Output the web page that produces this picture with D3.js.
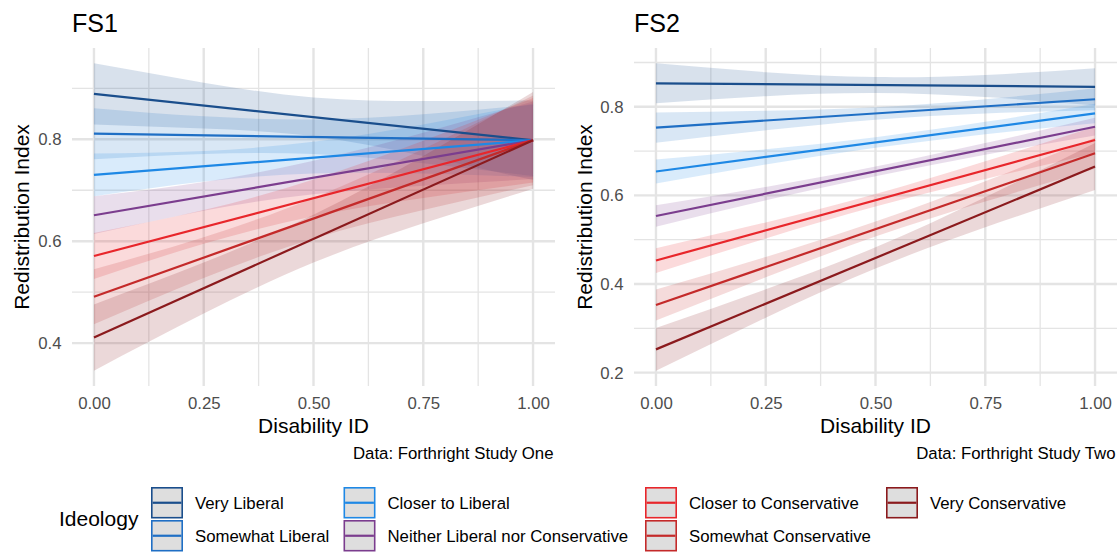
<!DOCTYPE html>
<html>
<head>
<meta charset="utf-8">
<script src="https://cdn.jsdelivr.net/npm/d3@7"></script>
<style>
  body { margin: 0; background: #ffffff; }
  svg { display: block; font-family: "Liberation Sans", Arial, Helvetica, sans-serif; }
</style>
</head>
<body>
<svg id="chart" width="1120" height="554"></svg>
<script>
// Ideology groups and their colours
const ideologies = [
  "Very Liberal", "Somewhat Liberal", "Closer to Liberal",
  "Neither Liberal nor Conservative", "Closer to Conservative",
  "Somewhat Conservative", "Very Conservative"
];
const ideologyColors = ["#1a4e8c", "#1f6fc5", "#1e88e5", "#7b3d8e", "#e8262b", "#c42a2a", "#8b1a1d"];

// Disability ID positions where the confidence band is given
const bandX = [0, 0.25, 0.5, 0.75, 1];
const xTicks = [0, 0.25, 0.5, 0.75, 1];
const xMinor = [0.125, 0.375, 0.625, 0.875];

// FS1: predicted Redistribution Index at Disability ID 0 and 1
const fs1Fit = [
  [0.889, 0.798], [0.811, 0.798], [0.730, 0.798], [0.651, 0.798],
  [0.571, 0.798], [0.491, 0.798], [0.411, 0.798]
];
const fs1Lower = [
  [0.829, 0.821, 0.806, 0.767, 0.720],
  [0.761, 0.771, 0.771, 0.753, 0.728],
  [0.688, 0.717, 0.733, 0.733, 0.726],
  [0.614, 0.660, 0.692, 0.709, 0.722],
  [0.526, 0.595, 0.649, 0.685, 0.715],
  [0.437, 0.528, 0.605, 0.661, 0.710],
  [0.346, 0.458, 0.558, 0.635, 0.703]
];
const fs1Upper = [
  [0.949, 0.911, 0.882, 0.875, 0.876],
  [0.861, 0.845, 0.839, 0.849, 0.868],
  [0.772, 0.777, 0.795, 0.829, 0.870],
  [0.688, 0.716, 0.758, 0.813, 0.874],
  [0.616, 0.661, 0.721, 0.797, 0.881],
  [0.545, 0.608, 0.685, 0.781, 0.886],
  [0.476, 0.558, 0.652, 0.767, 0.893]
];
const fs1YTicks = [0.4, 0.6, 0.8];
const fs1YMinor = [0.5, 0.7, 0.9];

// FS2
const fs2Fit = [
  [0.853, 0.845], [0.753, 0.817], [0.654, 0.785], [0.5535, 0.755],
  [0.453, 0.725], [0.3525, 0.695], [0.2525, 0.665]
];
const fs2Lower = [
  [0.808, 0.824, 0.831, 0.822, 0.803],
  [0.719, 0.747, 0.771, 0.785, 0.792],
  [0.627, 0.670, 0.7075, 0.738, 0.763],
  [0.5295, 0.589, 0.643, 0.692, 0.735],
  [0.425, 0.503, 0.575, 0.637, 0.695],
  [0.3175, 0.415, 0.507, 0.586, 0.660],
  [0.2045, 0.324, 0.435, 0.528, 0.612]
];
const fs2Upper = [
  [0.898, 0.878, 0.867, 0.872, 0.887],
  [0.787, 0.791, 0.799, 0.817, 0.842],
  [0.681, 0.704, 0.7315, 0.766, 0.807],
  [0.5775, 0.619, 0.665, 0.718, 0.775],
  [0.481, 0.539, 0.603, 0.677, 0.755],
  [0.3875, 0.461, 0.541, 0.632, 0.730],
  [0.3005, 0.388, 0.483, 0.596, 0.718]
];
const fs2YTicks = [0.2, 0.4, 0.6, 0.8];
const fs2YMinor = [0.3, 0.5, 0.7, 0.9];

const panels = [
  { title: "FS1", caption: "Data: Forthright Study One", fit: fs1Fit, lower: fs1Lower, upper: fs1Upper,
    yTicks: fs1YTicks, yMinor: fs1YMinor, left: 72, right: 555, yTitleX: 28.5 },
  { title: "FS2", caption: "Data: Forthright Study Two", fit: fs2Fit, lower: fs2Lower, upper: fs2Upper,
    yTicks: fs2YTicks, yMinor: fs2YMinor, left: 634, right: 1117, yTitleX: 591.5 }
];

const plotTop = 48, plotBottom = 386;
const svg = d3.select("#chart");
const gridColor = "#e4e4e4";

panels.forEach(p => {
  const x = d3.scaleLinear().domain([-0.05, 1.05]).range([p.left, p.right]);
  const lo = d3.min(p.lower.flat()), hi = d3.max(p.upper.flat());
  const pad = (hi - lo) * 0.05;
  const y = d3.scaleLinear().domain([lo - pad, hi + pad]).range([plotBottom, plotTop]);

  const g = svg.append("g");

  // grid: minor then major
  const grid = g.append("g");
  grid.selectAll(".ymin").data(p.yMinor).join("line")
    .attr("x1", p.left).attr("x2", p.right)
    .attr("y1", d => y(d)).attr("y2", d => y(d))
    .attr("stroke", gridColor).attr("stroke-width", 1.3);
  grid.selectAll(".xmin").data(xMinor).join("line")
    .attr("y1", plotTop).attr("y2", plotBottom)
    .attr("x1", d => x(d)).attr("x2", d => x(d))
    .attr("stroke", gridColor).attr("stroke-width", 1.3);
  grid.selectAll(".ymaj").data(p.yTicks).join("line")
    .attr("x1", p.left).attr("x2", p.right)
    .attr("y1", d => y(d)).attr("y2", d => y(d))
    .attr("stroke", gridColor).attr("stroke-width", 2.4);
  grid.selectAll(".xmaj").data(xTicks).join("line")
    .attr("y1", plotTop).attr("y2", plotBottom)
    .attr("x1", d => x(d)).attr("x2", d => x(d))
    .attr("stroke", gridColor).attr("stroke-width", 2.4);

  // confidence bands
  const area = d3.area()
    .x((d, i) => x(bandX[i]))
    .y0(d => y(d[0]))
    .y1(d => y(d[1]))
    .curve(d3.curveNatural);
  g.append("g").selectAll("path").data(ideologies).join("path")
    .attr("d", (d, k) => area(p.lower[k].map((v, i) => [v, p.upper[k][i]])))
    .attr("fill", (d, k) => ideologyColors[k])
    .attr("fill-opacity", 0.17);

  // fitted lines
  const line = d3.line().x((d, i) => x(i)).y(d => y(d));
  g.append("g").selectAll("path").data(ideologies).join("path")
    .attr("d", (d, k) => line(p.fit[k]))
    .attr("fill", "none")
    .attr("stroke", (d, k) => ideologyColors[k])
    .attr("stroke-width", 2.2);

  // axes
  const xAxis = g.append("g").attr("transform", `translate(0,${plotBottom})`)
    .call(d3.axisBottom(x).tickValues(xTicks).tickFormat(d3.format(".2f")).tickSize(0).tickPadding(11));
  const yAxis = g.append("g").attr("transform", `translate(${p.left},0)`)
    .call(d3.axisLeft(y).tickValues(p.yTicks).tickFormat(d3.format(".1f")).tickSize(0).tickPadding(10.5));
  [xAxis, yAxis].forEach(a => {
    a.select(".domain").remove();
    a.selectAll("text").attr("fill", "#4d4d4d").attr("font-size", 16.8)
      .attr("font-family", "Liberation Sans, Arial, sans-serif");
  });

  // titles
  g.append("text").attr("x", p.left).attr("y", 31.7).attr("font-size", 25).attr("fill", "#000").text(p.title);
  g.append("text").attr("x", (p.left + p.right) / 2).attr("y", 433.3).attr("text-anchor", "middle")
    .attr("font-size", 21).attr("fill", "#000").text("Disability ID");
  g.append("text").attr("transform", `translate(${p.yTitleX},${(plotTop + plotBottom) / 2}) rotate(-90)`)
    .attr("text-anchor", "middle").attr("font-size", 21).attr("fill", "#000").text("Redistribution Index");
  g.append("text").attr("x", p.right - 1.5).attr("y", 459).attr("text-anchor", "end")
    .attr("font-size", 16.8).attr("fill", "#000").text(p.caption);
});

// legend
const legend = svg.append("g");
legend.append("text").attr("x", 59).attr("y", 525.5).attr("font-size", 21).attr("fill", "#000").text("Ideology");
const colX = [151, 343.5, 645, 886];
const rowY = [487, 520];
const keyW = 32, keyH = 31.5;
const keys = legend.selectAll("g.key").data(ideologies).join("g")
  .attr("class", "key")
  .attr("transform", (d, i) => `translate(${colX[Math.floor(i / 2)]},${rowY[i % 2]})`);
keys.append("rect").attr("x", 0.8).attr("y", 0.8).attr("width", keyW - 1.6).attr("height", keyH - 1.6)
  .attr("fill", "#dedede").attr("stroke", (d, i) => ideologyColors[i]).attr("stroke-width", 1.6);
keys.append("line").attr("x1", 1.6).attr("x2", keyW - 1.6).attr("y1", keyH / 2).attr("y2", keyH / 2)
  .attr("stroke", (d, i) => ideologyColors[i]).attr("stroke-width", 2.2);
keys.append("text").attr("x", 44).attr("y", keyH / 2).attr("dy", "0.35em")
  .attr("font-size", 16.8).attr("fill", "#000").text(d => d);
</script>
</body>
</html>
